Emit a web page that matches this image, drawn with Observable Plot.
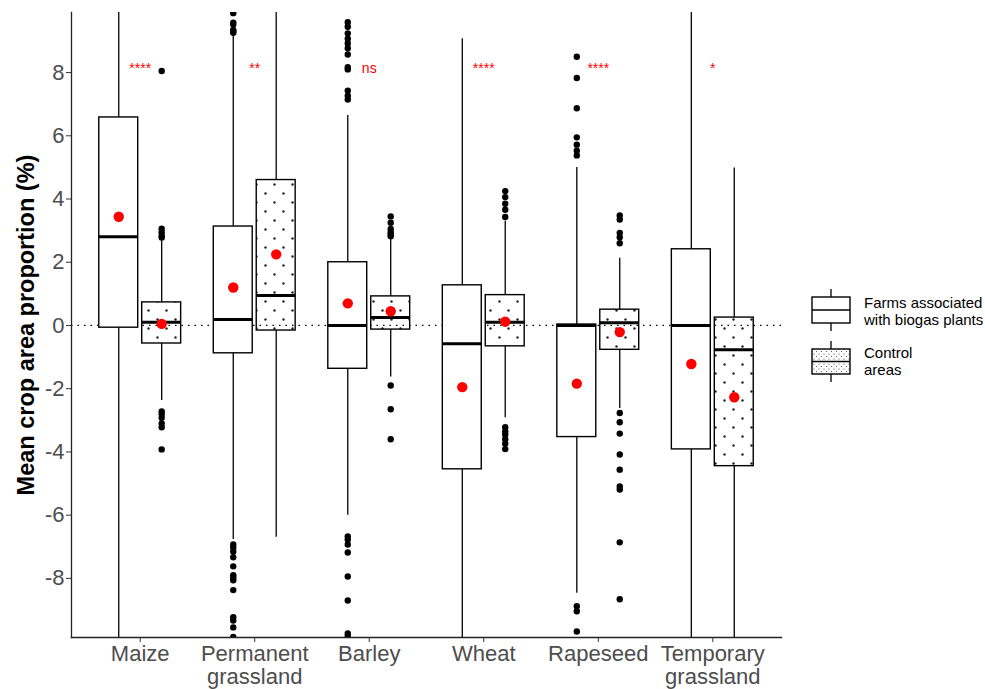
<!DOCTYPE html>
<html>
<head>
<meta charset="utf-8">
<script src="https://cdn.jsdelivr.net/npm/d3@7"></script>
<script src="https://cdn.jsdelivr.net/npm/@observablehq/plot@0.6"></script>
<style>
  html, body { margin: 0; padding: 0; background: #fff; }
  #wrap { position: relative; width: 985px; height: 689px; overflow: hidden; font-family: "Liberation Sans", Arial, sans-serif; }
  #legend { position: absolute; left: 810px; top: 285px; }
</style>
</head>
<body>
<div id="wrap">
  <div id="chart"></div>
  <svg id="legend" width="175" height="105" font-family="Liberation Sans, Arial, sans-serif">
    <defs>
      <pattern id="dotsLegend" patternUnits="userSpaceOnUse" width="5" height="5">
        <circle cx="1.5" cy="1.5" r="0.6" fill="#444"></circle>
        <circle cx="4" cy="4" r="0.6" fill="#444"></circle>
      </pattern>
    </defs>
    <line x1="21" x2="21" y1="4" y2="12" stroke="#000" stroke-width="1.3"></line>
    <rect x="2" y="12" width="38" height="26" fill="#fff" stroke="#000" stroke-width="1.4"></rect>
    <line x1="2" x2="40" y1="25" y2="25" stroke="#000" stroke-width="1.4"></line>
    <line x1="21" x2="21" y1="38" y2="46" stroke="#000" stroke-width="1.3"></line>
    <text x="54" y="23" font-size="15" fill="#000">Farms associated</text>
    <text x="54" y="40" font-size="15" fill="#000">with biogas plants</text>
    <line x1="21" x2="21" y1="56" y2="64" stroke="#000" stroke-width="1.3"></line>
    <rect x="2" y="64" width="38" height="25" fill="url(#dotsLegend)" stroke="#000" stroke-width="1.4"></rect>
    <line x1="2" x2="40" y1="76.5" y2="76.5" stroke="#000" stroke-width="1.4"></line>
    <line x1="21" x2="21" y1="89" y2="97" stroke="#000" stroke-width="1.3"></line>
    <text x="54" y="73" font-size="15" fill="#000">Control</text>
    <text x="54" y="90" font-size="15" fill="#000">areas</text>
  </svg>
</div>
<script>
// ---- Data ----
const categories = ["Maize", "Permanent\ngrassland", "Barley", "Wheat", "Rapeseed", "Temporary\ngrassland"];
const groups = ["Farms associated with biogas plants", "Control areas"];
const sigLabels = ["****", "**", "ns", "****", "****", "*"];
const yTicks = [-8, -6, -4, -2, 0, 2, 4, 6, 8];

const biogasQ1     = [-0.07, -0.88, -1.37, -4.55, -3.53, -3.92];
const biogasMedian = [ 2.81,  0.19,  0.00, -0.58,  0.00,  0.00];
const biogasQ3     = [ 6.58,  3.13,  2.00,  1.27,  0.03,  2.41];
const biogasLow    = [-12.0, -6.77, -6.00, -12.0, -8.47, -12.0];
const biogasHigh   = [ 12.0,  9.20,  6.64,  9.07,  5.00,  12.0];
const biogasMean   = [ 3.44,  1.20,  0.70, -1.95, -1.84, -1.22];

const controlQ1     = [-0.57, -0.16, -0.13, -0.66, -0.77, -4.45];
const controlMedian = [ 0.10,  0.95,  0.25,  0.10,  0.09, -0.77];
const controlQ3     = [ 0.73,  4.60,  0.92,  0.96,  0.50,  0.25];
const controlLow    = [-2.37, -6.70, -1.63, -2.92, -2.63, -12.0];
const controlHigh   = [ 2.70,  12.0,  2.78,  3.30,  2.13,  4.98];
const controlMean   = [ 0.05,  2.25,  0.45,  0.12, -0.21, -2.27];

const biogasOutliers = [
  [],
  [9.88, 9.58, 9.52, 9.35, 9.30, 9.26, -6.93, -7.02, -7.15, -7.33, -7.62, -7.90, -7.98, -8.06, -8.37, -9.23, -9.33, -9.55, -9.85],
  [9.59, 9.45, 9.24, 9.07, 8.92, 8.77, 8.57, 8.17, 8.10, 7.43, 7.27, 7.15, -6.67, -6.77, -6.93, -7.18, -7.94, -8.70, -9.74, -9.83],
  [],
  [8.50, 7.83, 6.87, 5.95, 5.72, 5.53, 5.38, -8.88, -9.04, -9.68],
  []
];
const controlOutliers = [
  [8.05, 3.06, 2.95, 2.85, 2.78, -2.72, -2.80, -2.92, -3.10, -3.22, -3.92],
  [],
  [3.45, 3.25, 3.05, 2.95, 2.88, 2.82, -1.90, -2.65, -3.60],
  [4.25, 4.06, 3.85, 3.66, 3.43, -3.22, -3.35, -3.45, -3.60, -3.74, -3.91],
  [3.48, 3.35, 2.93, 2.79, 2.60, -2.77, -3.06, -3.42, -4.08, -4.56, -5.09, -5.19, -6.86, -8.66],
  []
];

// ---- Build tables ----
const DODGE = 0.1875, HALF = 0.17;
const boxes = [];
const outliers = [];
categories.forEach((c, i) => {
  boxes.push({i, g: 0, q1: biogasQ1[i], med: biogasMedian[i], q3: biogasQ3[i], lo: biogasLow[i], hi: biogasHigh[i], mean: biogasMean[i]});
  boxes.push({i, g: 1, q1: controlQ1[i], med: controlMedian[i], q3: controlQ3[i], lo: controlLow[i], hi: controlHigh[i], mean: controlMean[i]});
  biogasOutliers[i].forEach(v => outliers.push({i, g: 0, v}));
  controlOutliers[i].forEach(v => outliers.push({i, g: 1, v}));
});
const xc = d => d.i + (d.g === 0 ? -DODGE : DODGE);
const sig = sigLabels.map((s, i) => ({i, s}));
const sigY = 8.12;

const chart = Plot.plot({
  width: 985,
  height: 689,
  marginLeft: 71,
  marginRight: 204,
  marginTop: 12,
  marginBottom: 52,
  style: {fontFamily: "Liberation Sans, Arial, sans-serif", background: "#fff", overflow: "visible"},
  x: {type: "linear", domain: [-0.6, 5.6]},
  y: {domain: [-9.87, 9.9]},
  marks: [
    Plot.ruleY([0], {stroke: "#000", strokeWidth: 1.2, strokeDasharray: "1.5,5"}),
    Plot.ruleX(boxes, {x: xc, y1: "lo", y2: "q1", stroke: "#000", strokeWidth: 1.3, clip: true}),
    Plot.ruleX(boxes, {x: xc, y1: "q3", y2: "hi", stroke: "#000", strokeWidth: 1.3, clip: true}),
    Plot.rect(boxes, {
      x1: d => xc(d) - HALF, x2: d => xc(d) + HALF, y1: "q1", y2: "q3",
      fill: d => d.g === 0 ? "#ffffff" : "url(#dots)",
      stroke: "#000", strokeWidth: 1.4
    }),
    Plot.ruleY(boxes, {y: "med", x1: d => xc(d) - HALF, x2: d => xc(d) + HALF, stroke: "#000", strokeWidth: 3}),
    Plot.dot(outliers, {x: xc, y: "v", r: 3.2, fill: "#000", stroke: "none", clip: true}),
    Plot.dot(boxes, {x: xc, y: "mean", r: 5.2, fill: "#ff0000", stroke: "none"}),
    Plot.text(sig, {x: "i", y: () => sigY, text: "s", fill: "#ff0000", fontSize: 14}),
    Plot.frame({anchor: "left", stroke: "#222", strokeWidth: 1.3}),
    Plot.frame({anchor: "bottom", stroke: "#222", strokeWidth: 1.3}),
    Plot.axisY({ticks: yTicks, tickFormat: d => String(d), tickSize: 5, tickPadding: 2, fontSize: 22, fill: "#4d4d4d", stroke: "#333", label: null}),
    Plot.axisX({ticks: categories.map((_, i) => i), tickFormat: i => categories[i], tickSize: 5, tickPadding: 2, fontSize: 22, lineHeight: 1.05, fill: "#4d4d4d", stroke: "#333", label: null}),
    Plot.text(["Mean crop area proportion (%)"], {frameAnchor: "left", textAnchor: "middle", rotate: -90, dx: -45, fontSize: 23.5, fontWeight: "bold", fill: "#000"})
  ]
});

chart.insertAdjacentHTML("afterbegin",
  '<defs><pattern id="dots" patternUnits="userSpaceOnUse" width="18" height="18">' +
  '<circle cx="4.5" cy="4.5" r="1.2" fill="#222"></circle>' +
  '<circle cx="13.5" cy="13.5" r="1.2" fill="#222"></circle>' +
  '</pattern></defs>');
document.getElementById("chart").appendChild(chart);
</script>
</body>
</html>
